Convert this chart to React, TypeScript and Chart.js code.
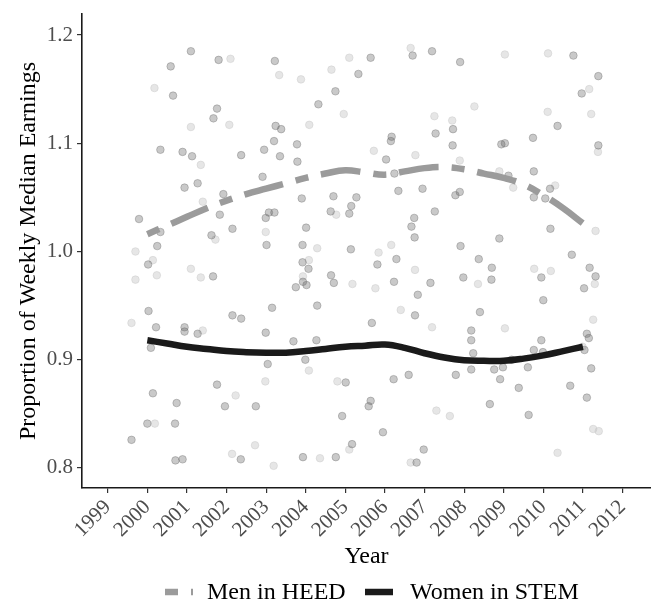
import React, { useEffect, useRef } from "react";
import { Chart, registerables } from "chart.js";

Chart.register(...registerables);

// ---------- data ----------
const yearLabels = ["1999", "2000", "2001", "2002", "2003", "2004", "2005", "2006", "2007", "2008", "2009", "2010", "2011", "2012"];
const yearTicks = [1999, 2000, 2001, 2002, 2003, 2004, 2005, 2006, 2007, 2008, 2009, 2010, 2011, 2012];
const yTickLabels = ["0.8", "0.9", "1.0", "1.1", "1.2"];

const xTitle = "Year";
const yTitle = "Proportion of Weekly Median Earnings";
const seriesNames = ["Men in HEED", "Women in STEM"];

const smoothYears = [2000, 2000.5, 2001, 2001.5, 2002, 2002.5, 2003, 2003.5, 2004, 2004.5, 2005, 2005.5, 2006, 2006.5, 2007, 2007.5, 2008, 2008.5, 2009, 2009.5, 2010, 2010.5, 2011];
const menHeedSmooth = [1.016, 1.024, 1.032, 1.04, 1.047, 1.053, 1.058, 1.063, 1.068, 1.072, 1.075, 1.073, 1.071, 1.074, 1.077, 1.078, 1.076, 1.072, 1.068, 1.062, 1.052, 1.04, 1.026];
const womenStemSmooth = [0.918, 0.915, 0.912, 0.91, 0.908, 0.907, 0.9065, 0.9065, 0.908, 0.91, 0.912, 0.913, 0.914, 0.911, 0.906, 0.902, 0.8995, 0.899, 0.899, 0.901, 0.904, 0.908, 0.912];

const darkPoints: [number, number][] = [
  [1999.6, 0.826], [1999.79, 1.03], [2000.02, 0.988], [2000.03, 0.945], [2000.0, 0.841], [2000.09, 0.911],
  [2000.14, 0.869], [2000.22, 0.93], [2000.25, 1.005], [2000.33, 1.094], [2000.33, 1.018], [2000.59, 1.171],
  [2000.65, 1.144], [2000.71, 0.807], [2000.74, 0.86], [2000.7, 0.841], [2000.89, 0.808], [2000.89, 1.092],
  [2000.94, 1.059], [2000.94, 0.93], [2000.94, 0.926], [2001.1, 1.185], [2001.13, 1.088], [2001.27, 1.063],
  [2001.27, 0.924], [2001.67, 1.123], [2001.76, 1.132], [2001.66, 0.977], [2001.62, 1.015], [2001.8, 1.177],
  [2001.83, 1.034], [2001.92, 1.053], [2001.76, 0.877], [2001.96, 0.857], [2002.15, 1.021], [2002.15, 0.941],
  [2002.36, 0.808], [2002.37, 0.938], [2002.37, 1.089], [2002.74, 0.857], [2002.91, 1.069], [2002.95, 1.094],
  [2002.99, 1.031], [2003.01, 1.006], [2002.99, 0.925], [2003.04, 0.896], [2003.07, 1.036], [2003.21, 1.036],
  [2003.15, 0.948], [2003.22, 1.176], [2003.2, 1.102], [2003.24, 1.116], [2003.35, 1.088], [2003.38, 1.113],
  [2003.69, 0.917], [2003.75, 0.967], [2003.79, 1.083], [2003.78, 1.099], [2003.9, 1.049], [2003.92, 1.006],
  [2003.92, 0.99], [2003.93, 0.972], [2004.02, 0.969], [2003.99, 0.9], [2004.07, 0.984], [2004.01, 1.022],
  [2003.93, 0.81], [2004.27, 0.918], [2004.29, 0.95], [2004.32, 1.136], [2004.63, 1.037], [2004.64, 0.978],
  [2004.7, 1.051], [2004.71, 0.971], [2004.75, 1.148], [2004.76, 0.81], [2004.92, 0.848], [2005.01, 0.879],
  [2005.1, 1.035], [2005.15, 1.042], [2005.14, 1.002], [2005.17, 0.822], [2005.28, 1.05], [2005.33, 1.164],
  [2005.59, 0.857], [2005.64, 0.862], [2005.67, 0.934], [2005.64, 1.179], [2005.81, 0.988], [2005.95, 0.833],
  [2006.03, 1.085], [2006.15, 1.102], [2006.17, 1.106], [2006.23, 0.972], [2006.24, 1.072], [2006.22, 0.882],
  [2006.29, 0.993], [2006.34, 1.056], [2006.6, 0.886], [2006.67, 1.023], [2006.7, 1.181], [2006.74, 1.031],
  [2006.75, 1.013], [2006.76, 0.941], [2006.8, 0.805], [2006.83, 0.96], [2006.95, 1.058], [2006.98, 0.817],
  [2007.15, 0.971], [2007.19, 1.185], [2007.28, 1.109], [2007.26, 1.037], [2007.72, 1.113], [2007.71, 1.098],
  [2007.78, 1.052], [2007.79, 0.886], [2007.89, 1.055], [2007.9, 1.175], [2007.91, 1.005], [2007.98, 0.976],
  [2008.18, 0.927], [2008.18, 0.918], [2008.23, 0.906], [2008.18, 0.891], [2008.37, 0.993], [2008.4, 0.944],
  [2008.65, 0.859], [2008.7, 0.985], [2008.69, 0.974], [2008.76, 0.891], [2008.89, 1.012], [2008.91, 0.882],
  [2008.94, 1.099], [2009.03, 1.1], [2008.98, 0.893], [2009.12, 1.07], [2009.2, 0.9], [2009.38, 0.874],
  [2009.61, 0.893], [2009.63, 0.849], [2009.74, 1.105], [2009.76, 1.074], [2009.76, 1.05], [2009.76, 0.909],
  [2009.95, 0.918], [2009.95, 0.976], [2009.99, 0.907], [2010.0, 0.955], [2010.05, 1.049], [2010.17, 1.058],
  [2010.18, 1.021], [2010.36, 1.116], [2010.72, 0.997], [2010.76, 1.181], [2010.68, 0.876], [2010.97, 1.146],
  [2011.03, 0.966], [2011.04, 0.909], [2011.1, 0.924], [2011.15, 0.92], [2011.1, 0.865], [2011.17, 0.985],
  [2011.21, 0.892], [2011.32, 0.977], [2011.39, 1.098], [2011.39, 1.162],
];

const lightPoints: [number, number][] = [
  [1999.6, 0.934], [1999.7, 1.0], [1999.7, 0.974], [2000.18, 1.151], [2000.14, 0.992], [2000.19, 0.841],
  [2000.24, 0.978], [2001.1, 1.115], [2001.1, 0.984], [2001.35, 1.08], [2001.35, 0.976], [2001.4, 1.046],
  [2001.4, 0.927], [2001.72, 1.011], [2002.07, 1.117], [2002.1, 1.178], [2002.14, 0.813], [2002.23, 0.867],
  [2002.72, 0.821], [2002.98, 0.88], [2002.99, 1.018], [2003.19, 0.802], [2003.33, 1.163], [2003.88, 1.159],
  [2003.93, 0.977], [2004.08, 0.992], [2004.08, 0.89], [2004.09, 1.117], [2004.29, 1.003], [2004.36, 0.809],
  [2004.65, 1.168], [2004.77, 1.034], [2004.8, 0.88], [2004.96, 1.127], [2005.1, 1.179], [2005.18, 0.97],
  [2005.1, 0.817], [2005.72, 1.093], [2005.76, 0.966], [2005.84, 0.999], [2006.16, 1.006], [2006.4, 0.946],
  [2006.65, 1.188], [2006.65, 0.805], [2006.76, 0.983], [2006.77, 1.089], [2007.19, 0.93], [2007.25, 1.125],
  [2007.3, 0.853], [2007.64, 0.848], [2007.7, 1.121], [2007.89, 1.084], [2008.26, 1.134], [2008.35, 0.97],
  [2008.89, 1.074], [2009.03, 1.182], [2009.03, 0.929], [2009.24, 1.059], [2009.77, 0.984], [2010.11, 1.129],
  [2010.12, 1.183], [2010.19, 0.982], [2010.3, 1.061], [2010.36, 0.814], [2010.99, 0.912], [2011.16, 1.15],
  [2011.21, 1.127], [2011.26, 0.937], [2011.3, 0.97], [2011.32, 1.019], [2011.26, 0.836], [2011.4, 0.834],
  [2011.38, 1.092],
];

// ---------- styling ----------
const FONT = '"Liberation Serif", "Times New Roman", serif';
const MEN_COLOR = "#9b9b9b";
const WOMEN_COLOR = "#1a1a1a";
const MEN_DASH = [13, 13, 40, 13];
const LINE_W = 6.5;

const overlayPlugin = {
  id: "overlayTexts",
  afterDraw(chart: any) {
    const ctx = chart.ctx as CanvasRenderingContext2D;
    const area = chart.chartArea;
    ctx.save();
    ctx.fillStyle = "#000";
    ctx.font = `24px ${FONT}`;
    // y axis title
    ctx.save();
    ctx.translate(35, (area.top + area.bottom) / 2);
    ctx.rotate(-Math.PI / 2);
    ctx.textAlign = "center";
    ctx.textBaseline = "alphabetic";
    ctx.fillText(yTitle, 0, 0);
    ctx.restore();
    // x axis title
    ctx.textAlign = "center";
    ctx.textBaseline = "alphabetic";
    ctx.fillText(xTitle, (area.left + area.right) / 2, 563);
    // legend
    const ly = 592;
    ctx.lineCap = "butt";
    ctx.lineWidth = LINE_W;
    ctx.strokeStyle = MEN_COLOR;
    ctx.setLineDash(MEN_DASH);
    ctx.beginPath();
    ctx.moveTo(165, ly);
    ctx.lineTo(193, ly);
    ctx.stroke();
    ctx.setLineDash([]);
    ctx.strokeStyle = WOMEN_COLOR;
    ctx.beginPath();
    ctx.moveTo(365, ly);
    ctx.lineTo(393, ly);
    ctx.stroke();
    ctx.textAlign = "left";
    ctx.fillStyle = "#000";
    ctx.fillText(seriesNames[0], 207, 599);
    ctx.fillText(seriesNames[1], 410, 599);
    ctx.restore();
  },
};

export default function App() {
  const canvasRef = useRef<HTMLCanvasElement | null>(null);

  useEffect(() => {
    if (!canvasRef.current) return;
    Chart.defaults.font.family = FONT;
    const chart = new Chart(canvasRef.current, {
      type: "scatter",
      data: {
        datasets: [
          {
            type: "line",
            label: seriesNames[1],
            data: smoothYears.map((x, i) => ({ x, y: womenStemSmooth[i] })),
            borderColor: WOMEN_COLOR,
            borderWidth: LINE_W,
            pointRadius: 0,
            tension: 0.4,
            fill: false,
            order: 0,
          },
          {
            type: "line",
            label: seriesNames[0],
            data: smoothYears.map((x, i) => ({ x, y: menHeedSmooth[i] })),
            borderColor: MEN_COLOR,
            borderWidth: LINE_W,
            borderDash: MEN_DASH,
            borderCapStyle: "butt",
            pointRadius: 0,
            tension: 0.4,
            fill: false,
            order: 1,
          },
          {
            label: "dark",
            data: darkPoints.map(([x, y]) => ({ x, y })),
            backgroundColor: "rgba(100,100,100,0.35)",
            borderColor: "rgba(100,100,100,0.35)",
            borderWidth: 1,
            pointRadius: 3.8,
            order: 2,
          },
          {
            label: "light",
            data: lightPoints.map(([x, y]) => ({ x, y })),
            backgroundColor: "rgba(200,200,200,0.45)",
            borderColor: "rgba(200,200,200,0.45)",
            borderWidth: 1,
            pointRadius: 3.8,
            order: 3,
          },
        ],
      },
      options: {
        responsive: false,
        animation: false,
        devicePixelRatio: 1,
        layout: { autoPadding: false, padding: { top: 14, right: 0, bottom: 0, left: 0 } },
        plugins: { legend: { display: false }, tooltip: { enabled: false } },
        scales: {
          x: {
            type: "linear",
            min: 1998.35,
            max: 2012.72,
            afterFit: (s: any) => {
              s.height = 114;
              s.paddingLeft = 0;
              s.paddingRight = 0;
              s.paddingTop = 0;
              s.paddingBottom = 0;
            },
            afterBuildTicks: (s: any) => {
              s.ticks = yearTicks.map((v) => ({ value: v }));
            },
            ticks: {
              autoSkip: false,
              minRotation: 45,
              maxRotation: 45,
              padding: 2,
              color: "#4d4d4d",
              font: { size: 21, family: FONT },
              callback: (v: any) => {
                const i = yearTicks.indexOf(Number(v));
                return i >= 0 ? yearLabels[i] : "";
              },
            },
            grid: { display: true, drawOnChartArea: false, drawTicks: true, tickLength: 5, color: "#333", lineWidth: 1.2 },
            border: { display: true, color: "#1a1a1a", width: 1.6 },
          },
          y: {
            type: "linear",
            min: 0.7815,
            max: 1.2194,
            afterFit: (s: any) => {
              s.width = 82;
              s.paddingLeft = 0;
              s.paddingRight = 0;
              s.paddingTop = 0;
              s.paddingBottom = 0;
            },
            afterBuildTicks: (s: any) => {
              s.ticks = yTickLabels.map((t) => ({ value: parseFloat(t) }));
            },
            ticks: {
              padding: 4,
              color: "#4d4d4d",
              font: { size: 21, family: FONT },
              callback: (v: any) => {
                const i = yTickLabels.findIndex((t) => Math.abs(parseFloat(t) - Number(v)) < 1e-6);
                return i >= 0 ? yTickLabels[i] : "";
              },
            },
            grid: { display: true, drawOnChartArea: false, drawTicks: true, tickLength: 5, color: "#333", lineWidth: 1.2 },
            border: { display: true, color: "#1a1a1a", width: 1.6 },
          },
        },
      },
      plugins: [overlayPlugin],
    } as any);
    return () => chart.destroy();
  }, []);

  return (
    <div style={{ position: "absolute", left: 0, top: 0, width: 651, height: 602, background: "#fff" }}>
      <canvas ref={canvasRef} width={651} height={602} style={{ display: "block" }} />
    </div>
  );
}
